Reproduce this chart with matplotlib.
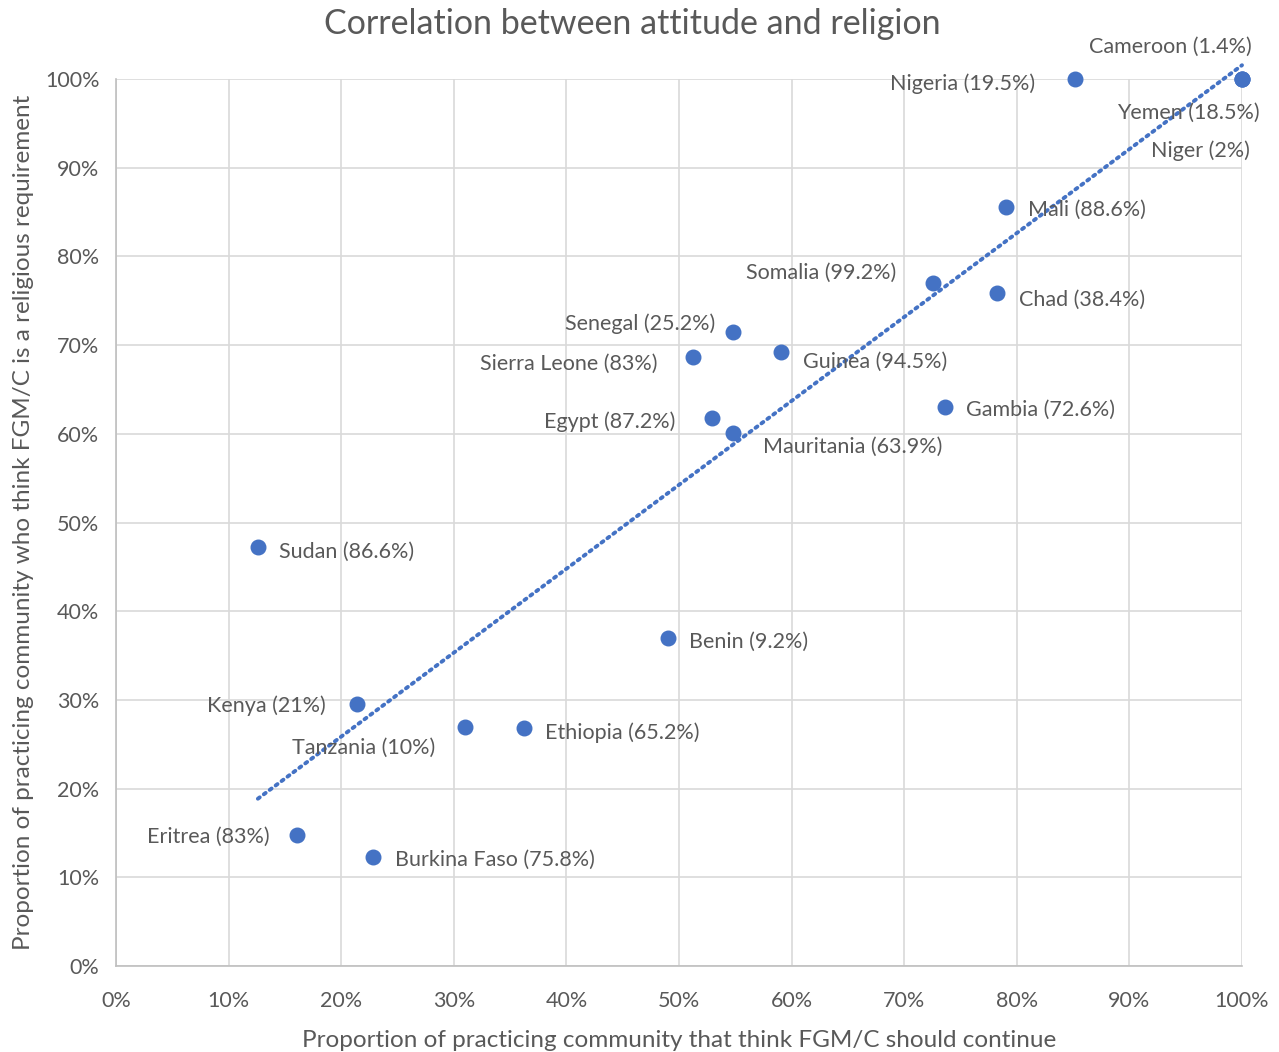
import numpy as np
import matplotlib.pyplot as plt
from matplotlib.ticker import PercentFormatter

plt.rcParams['font.family'] = ['Lato', 'DejaVu Sans']

# ===== data ===== #
countries = ['Nigeria', 'Cameroon', 'Yemen', 'Niger', 'Mali', 'Somalia', 'Chad',
             'Senegal', 'Sierra Leone', 'Guinea', 'Egypt', 'Mauritania', 'Gambia',
             'Sudan', 'Benin', 'Kenya', 'Tanzania', 'Ethiopia', 'Eritrea', 'Burkina Faso']
prevalence = ['19.5%', '1.4%', '18.5%', '2%', '88.6%', '99.2%', '38.4%',
              '25.2%', '83%', '94.5%', '87.2%', '63.9%', '72.6%',
              '86.6%', '9.2%', '21%', '10%', '65.2%', '83%', '75.8%']
should_continue = [85.2, 100, 100, 100, 79.0, 72.6, 78.2,
                   54.8, 51.2, 59.1, 52.9, 54.8, 73.6,
                   12.6, 49.0, 21.4, 31.0, 36.2, 16.1, 22.8]
religious_req = [100, 100, 100, 100, 85.6, 77.0, 75.9,
                 71.5, 68.7, 69.2, 61.8, 60.1, 63.0,
                 47.2, 37.0, 29.5, 26.9, 26.8, 14.8, 12.3]

# label placement (pixel offsets from point, horizontal alignment)
label_pos = {
    'Nigeria': (-40, -3, 'right'), 'Cameroon': (10, 34, 'right'),
    'Yemen': (18, -32, 'right'), 'Niger': (8, -70, 'right'),
    'Mali': (22, -1, 'left'), 'Somalia': (-37, 12, 'right'),
    'Chad': (22, -5, 'left'), 'Senegal': (-18, 10, 'right'),
    'Sierra Leone': (-35, -5, 'right'), 'Guinea': (22, -8, 'left'),
    'Egypt': (-36, -2, 'right'), 'Mauritania': (30, -12, 'left'),
    'Gambia': (21, -1, 'left'), 'Sudan': (21, -3, 'left'),
    'Benin': (21, -2, 'left'), 'Kenya': (-31, 1, 'right'),
    'Tanzania': (-101, -18, 'center'), 'Ethiopia': (21, -2, 'left'),
    'Eritrea': (-28, 0, 'right'), 'Burkina Faso': (22, -1, 'left'),
}

blue = '#4472C4'
grey = '#595959'

fig = plt.figure(figsize=(12.79, 10.52), dpi=100)
ax = fig.add_axes([116 / 1279, 1 - 966 / 1052, 1126 / 1279, 887 / 1052])

ax.scatter(should_continue, religious_req, s=110, color=blue, zorder=3, clip_on=False)

# linear trendline
x = np.array(should_continue)
y = np.array(religious_req)
k, b = np.polyfit(x, y, 1)
xs = np.array([x.min(), x.max()])
ax.plot(xs, k * xs + b, linestyle=(0, (0.6, 1.3)), dash_capstyle='round',
        color=blue, lw=2.8, zorder=2, clip_on=False)

for i, c in enumerate(countries):
    dx, dy, ha = label_pos[c]
    ax.annotate(f'{c} ({prevalence[i]})', (should_continue[i], religious_req[i]),
                xytext=(dx, dy - 2), textcoords='offset pixels', ha=ha, va='center',
                fontsize=15.5, color=grey, zorder=4)

ax.set_xlim(0, 100)
ax.set_ylim(0, 100)
ax.set_xticks(np.arange(0, 101, 10))
ax.set_yticks(np.arange(0, 101, 10))
ax.xaxis.set_major_formatter(PercentFormatter(decimals=0))
ax.yaxis.set_major_formatter(PercentFormatter(decimals=0))
ax.grid(True, color='#d9d9d9', lw=1.2)
ax.set_axisbelow(True)
for s in ['top', 'right']:
    ax.spines[s].set_visible(False)
for s in ['left', 'bottom']:
    ax.spines[s].set_color('#bfbfbf')
    ax.spines[s].set_linewidth(1.2)
ax.tick_params(length=0, labelsize=15.5, labelcolor=grey)
ax.tick_params(axis='x', pad=18)
ax.tick_params(axis='y', pad=12)

ax.set_xlabel('Proportion of practicing community that think FGM/C should continue',
              fontsize=17.5, color=grey, labelpad=14)
ax.set_ylabel('Proportion of practicing community who think FGM/C is a religious requirement',
              fontsize=17.5, color=grey, labelpad=8)
fig.text(632 / 1279, 1 - 24 / 1052, 'Correlation between attitude and religion',
         ha='center', va='center', fontsize=24.5, color=grey)

fig.savefig('out.png', dpi=100)
